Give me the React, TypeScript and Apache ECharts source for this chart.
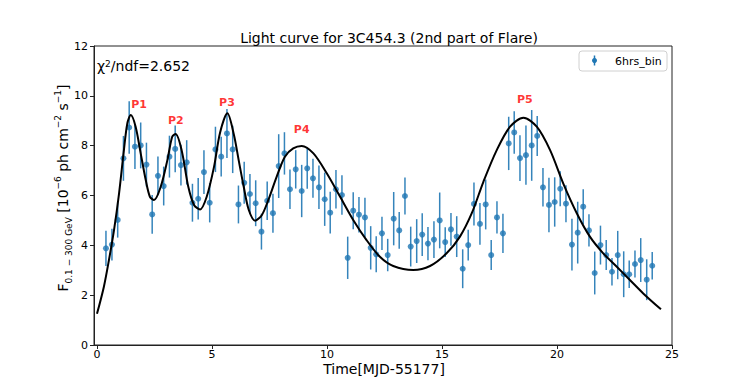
import React, { useEffect, useRef } from "react";
import * as echarts from "echarts";

const times = [
  0.39, 0.65, 0.9, 1.15, 1.4, 1.65, 1.9, 2.15, 2.4, 2.65, 2.9, 3.15, 3.4, 3.65, 3.9, 4.15,
  4.4, 4.65, 4.9, 5.15, 5.4, 5.65, 5.9, 6.15, 6.4, 6.65, 6.9, 7.15, 7.4, 7.65, 7.9, 8.15,
  8.39, 8.64, 8.9, 9.14, 9.39, 9.65, 9.9, 10.14, 10.39, 10.65, 10.9, 11.14, 11.39, 11.65,
  11.9, 12.14, 12.39, 12.64, 12.9, 13.14, 13.39, 13.64, 13.9, 14.14, 14.39, 14.65, 14.9,
  15.14, 15.39, 15.64, 15.9, 16.14, 16.39, 16.65, 16.9, 17.14, 17.39, 17.65, 17.9, 18.14,
  18.39, 18.65, 18.9, 19.14, 19.39, 19.65, 19.9, 20.14, 20.39, 20.65, 20.9, 21.14, 21.39,
  21.64, 21.89, 22.14, 22.39, 22.64, 22.9, 23.14, 23.39, 23.64, 23.9, 24.14,
];

const flux = [
  3.88, 4.03, 5.02, 7.49, 8.73, 7.96, 8.01, 7.24, 5.24, 6.79, 6.38, 7.56, 7.87, 7.22, 7.33, 5.71,
  5.87, 6.94, 5.71, 7.85, 7.56, 8.49, 7.85, 5.64, 6.51, 6.06, 5.69, 4.55, 5.79, 5.29, 7.18, 7.69,
  6.25, 7.05, 6.18, 7.09, 6.69, 6.33, 5.85, 5.31, 6.25, 6.02, 3.5, 5.39, 5.23, 5.12, 3.9, 3.64,
  4.48, 3.61, 5.07, 4.6, 5.98, 3.95, 4.17, 4.43, 4.07, 4.23, 5.0, 4.13, 4.64, 4.35, 3.06, 4.01,
  5.66, 4.86, 5.64, 3.61, 5.12, 4.48, 8.09, 8.53, 7.5, 7.62, 8.01, 8.39, 6.33, 5.62, 5.74, 6.27,
  5.67, 4.03, 4.51, 5.55, 4.6, 2.89, 4.01, 3.61, 2.94, 3.61, 2.84, 2.84, 3.25, 3.41, 2.62, 3.18,
];

const fluxErr = [
  0.71, 0.64, 0.71, 0.9, 1.05, 0.9, 0.92, 0.88, 0.78, 0.78, 0.78, 0.84, 0.94, 0.82, 0.89, 0.76,
  0.83, 0.88, 0.79, 0.91, 0.8, 0.98, 0.95, 0.76, 0.84, 0.8, 0.92, 0.72, 0.77, 0.78, 1.28, 0.85,
  0.79, 0.77, 1.05, 0.82, 0.78, 0.87, 1.07, 0.84, 0.77, 0.79, 0.85, 0.74, 0.71, 0.79, 0.87, 0.72,
  0.67, 0.65, 1.07, 0.74, 0.74, 0.8, 0.88, 0.86, 0.67, 0.74, 1.12, 0.6, 0.66, 0.82, 0.78, 0.62,
  0.86, 0.84, 1.0, 0.6, 0.65, 0.79, 1.07, 0.85, 0.92, 1.19, 1.42, 0.8, 0.77, 1.09, 0.99, 0.7,
  0.74, 1.04, 1.24, 0.7, 0.65, 0.86, 0.78, 0.6, 0.55, 0.97, 0.92, 0.55, 0.54, 0.88, 0.82, 0.55,
];

// fitted model curve
const fitX = [
  0.0, 0.3, 0.52, 0.74, 0.96, 1.17, 1.32, 1.47, 1.68, 1.9, 2.12, 2.3, 2.48, 2.77, 3.06, 3.27,
  3.42, 3.68, 3.97, 4.22, 4.48, 4.77, 5.09, 5.35, 5.67, 5.95, 6.16, 6.38, 6.6, 6.88, 7.17,
  7.45, 7.81, 8.17, 8.53, 8.9, 9.41, 9.99, 10.57, 11.14, 11.72, 12.3, 12.88, 13.75, 14.48,
  15.2, 15.78, 16.3, 16.8, 17.38, 17.96, 18.54, 19.12, 19.7, 20.27, 20.86, 21.43, 22.01, 22.6,
  23.17, 23.75, 24.52,
];
const fitY = [
  1.25, 2.34, 3.41, 4.61, 6.09, 7.82, 8.9, 9.23, 8.76, 7.69, 6.62, 5.95, 5.82, 6.35, 7.42, 8.36,
  8.47, 7.82, 6.35, 5.62, 5.44, 5.95, 7.16, 8.52, 9.3, 8.45, 7.42, 6.35, 5.42, 4.99, 5.22,
  5.82, 6.75, 7.56, 7.89, 7.99, 7.69, 6.89, 5.95, 5.02, 4.21, 3.54, 3.17, 3.01, 3.17,
  3.68, 4.35, 5.3, 6.55, 7.82, 8.76, 9.12, 8.76, 7.82, 6.49, 5.29, 4.35, 3.68, 3.14,
  2.61, 2.07, 1.43,
];

const peakNames = ["P1", "P2", "P3", "P4", "P5"];
const peakX = [1.83, 3.43, 5.65, 8.9, 18.6];
const peakY = [9.67, 8.99, 9.75, 8.63, 9.87];

const xTicks = [0, 5, 10, 15, 20, 25];

const FONT = "DejaVu Sans";
const BLUE = "#1f77b4";

export default function App() {
  const ref = useRef<HTMLDivElement>(null);

  useEffect(() => {
    document.body.style.margin = "0";
    if (!ref.current) return;
    const chart = echarts.init(ref.current, undefined, { renderer: "svg" });

    const points = times.map((t, i) => [t, flux[i]]);
    const errData = times.map((t, i) => [t, flux[i], fluxErr[i]]);
    const fit = fitX.map((x, i) => [x, fitY[i]]);
    const peaks = peakNames.map((n, i) => ({ name: n, value: [peakX[i], peakY[i]] }));

    const option: any = {
      animation: false,
      backgroundColor: "#fff",
      textStyle: { fontFamily: FONT },
      title: {
        text: "Light curve for 3C454.3 (2nd part of Flare)",
        left: 384,
        textAlign: "center",
        top: 26,
        textStyle: { fontFamily: FONT, fontSize: 14, fontWeight: "normal", color: "#000" },
      },
      grid: {
        left: 94,
        right: 75,
        top: 46,
        bottom: 43,
        show: true,
        borderColor: "#222",
        borderWidth: 1,
        backgroundColor: "transparent",
      },
      xAxis: {
        type: "value",
        min: -0.13,
        max: 25,
        axisLine: { show: true, onZero: false, lineStyle: { color: "#222", width: 1 } },
        axisTick: { show: true, inside: false, length: 4, customValues: xTicks, lineStyle: { color: "#222" } },
        axisLabel: {
          customValues: xTicks,
          fontFamily: FONT,
          fontSize: 11,
          lineHeight: 12,
          color: "#000",
          margin: 3,
        },
        splitLine: { show: false },
      },
      yAxis: {
        type: "value",
        min: 0,
        max: 12,
        interval: 2,
        axisLine: { show: true, onZero: false, lineStyle: { color: "#222", width: 1 } },
        axisTick: { show: true, inside: false, length: 4, lineStyle: { color: "#222" } },
        axisLabel: { fontFamily: FONT, fontSize: 11, color: "#000", margin: 6 },
        splitLine: { show: false },
      },
      series: [
        {
          type: "custom",
          name: "err",
          data: errData,
          z: 2,
          renderItem: (params: any, api: any) => {
            const x = api.value(0);
            const y = api.value(1);
            const e = api.value(2);
            const p1 = api.coord([x, y - e]);
            const p2 = api.coord([x, y + e]);
            return {
              type: "line",
              shape: { x1: p1[0], y1: p1[1], x2: p2[0], y2: p2[1] },
              style: { stroke: BLUE, lineWidth: 1.5, opacity: 0.9 },
            };
          },
        },
        {
          type: "scatter",
          name: "6hrs_bin",
          data: points,
          symbol: "circle",
          symbolSize: 6,
          itemStyle: { color: BLUE },
          z: 3,
        },
        {
          type: "line",
          name: "fit",
          data: fit,
          smooth: 0.3,
          showSymbol: false,
          symbol: "none",
          lineStyle: { color: "#000", width: 2 },
          z: 4,
        },
        {
          type: "scatter",
          name: "peaks",
          data: peaks,
          symbolSize: 0,
          z: 5,
          label: {
            show: true,
            position: "inside",
            formatter: (p: any) => p.name,
            color: "#ff0000",
            fontFamily: FONT,
            fontSize: 11,
            fontWeight: "bold",
          },
        },
      ],
      graphic: [
        {
          type: "text",
          left: 97,
          top: 59,
          style: {
            text: "{a|χ}{s|2}{a|/ndf=2.652}",
            rich: {
              a: { fontFamily: FONT, fontSize: 14, fill: "#000", verticalAlign: "bottom" },
              s: { fontFamily: FONT, fontSize: 9, fill: "#000", verticalAlign: "top" },
            },
          },
        },
        {
          type: "text",
          x: 384,
          y: 369,
          style: {
            text: "Time[MJD-55177]",
            fontFamily: FONT,
            fontSize: 14,
            fill: "#000",
            align: "center",
            verticalAlign: "middle",
          },
        },
        {
          type: "text",
          x: 63,
          y: 188,
          rotation: Math.PI / 2,
          style: {
            text: "{a|F}{b|0.1 − 300 GeV}{a| [10}{c|−6}{a| ph cm}{c|−2}{a| s}{c|−1}{a|]}",
            align: "center",
            verticalAlign: "middle",
            rich: {
              a: { fontFamily: FONT, fontSize: 14, fill: "#000", verticalAlign: "middle", lineHeight: 20 },
              b: { fontFamily: FONT, fontSize: 9, fill: "#000", verticalAlign: "bottom", lineHeight: 20 },
              c: { fontFamily: FONT, fontSize: 9, fill: "#000", verticalAlign: "top", lineHeight: 20 },
            },
          },
        },
        {
          type: "rect",
          shape: { x: 579, y: 51, width: 88, height: 20, r: 3 },
          style: { fill: "#fff", stroke: "#d0d0d0", lineWidth: 1 },
          z: 10,
        },
        {
          type: "line",
          shape: { x1: 594.5, y1: 55.5, x2: 594.5, y2: 65.5 },
          style: { stroke: BLUE, lineWidth: 1.5 },
          z: 11,
        },
        {
          type: "circle",
          shape: { cx: 594.5, cy: 60.5, r: 2.5 },
          style: { fill: BLUE },
          z: 11,
        },
        {
          type: "text",
          x: 615,
          y: 61,
          style: {
            text: "6hrs_bin",
            fontFamily: FONT,
            fontSize: 11,
            fill: "#000",
            align: "left",
            verticalAlign: "middle",
          },
          z: 11,
        },
      ],
    };

    chart.setOption(option);
    return () => chart.dispose();
  }, []);

  return <div ref={ref} style={{ width: 747, height: 388 }} />;
}
